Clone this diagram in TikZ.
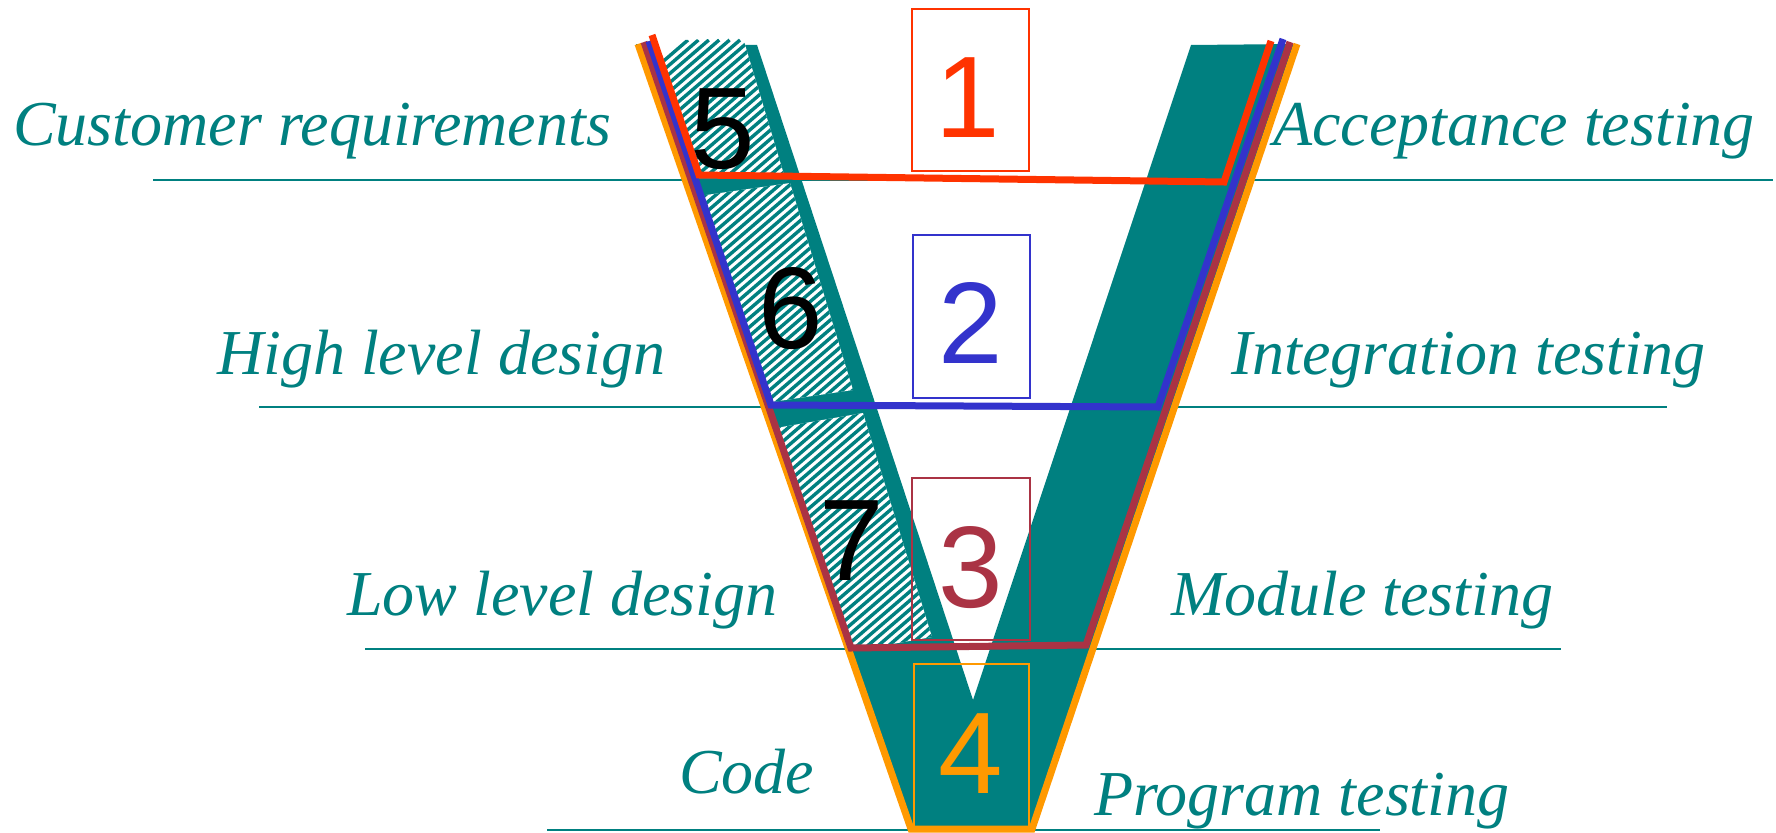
\documentclass[tikz,border=0pt]{standalone}
\usepackage{fontspec}
\setmainfont{Liberation Serif}
\newfontfamily\digitfont{Liberation Sans}
\definecolor{vteal}{HTML}{008080}
\definecolor{vred}{HTML}{FF3300}
\definecolor{vblue}{HTML}{3333CC}
\definecolor{vbrown}{HTML}{AA3344}
\definecolor{vorange}{HTML}{FF9900}
\begin{document}
\begin{tikzpicture}[x=1pt,y=-1pt,
  rule/.style={vteal, line width=2pt},
  lbl/.style={font=\fontsize{64}{70}\selectfont\itshape, text=vteal, inner sep=0pt, anchor=base west},
  digit/.style={font=\digitfont\fontsize{116}{120}\selectfont, inner sep=0pt, anchor=base},
  numbox/.style={line width=2pt},
  vline/.style={line width=7pt, line join=miter}]
\useasboundingbox (0,0) rectangle (1776,832);
\fill[white] (0,0) rectangle (1776,832);
% horizontal rules
\draw[rule] (153,180) -- (1773,180);
\draw[rule] (259,407) -- (1667,407);
\draw[rule] (365,649) -- (1561,649);
\draw[rule] (547,830) -- (1380,830);
% teal V
\fill[vteal] (636,44) -- (911,829) -- (1032,829) -- (1297,44) -- (1191,45) -- (973,700) -- (757,45) -- cycle;
% hatched areas
\begin{scope}
  \clip (650,41) -- (743,38) -- (785,178) -- (699,178) -- cycle
        (699,196) -- (790,183) -- (853,390) -- (772,402) -- cycle
        (776,428) -- (863,413) -- (932,637) -- (853,651) -- cycle;
  \fill[white] (600,0) rectangle (1000,700);
  \foreach \i in {-30,...,80} {
    \draw[vteal, line width=3.4pt] (\i*10.4,900) -- ++(1000,-860);
  }
\end{scope}
% number boxes
\draw[numbox, vred] (912,9) rectangle (1029,171);
\draw[numbox, vblue] (913,235) rectangle (1030,398);
\draw[numbox, vbrown] (912,478) rectangle (1030,640);
\draw[numbox, vorange] (914,664) rectangle (1029,827);
% coloured phase lines
\draw[vline, vorange] (638,44) -- (911,829) -- (1032,829) -- (1297,44);
\draw[vline, vbrown] (644,42) -- (851,648) -- (1086,645) -- (1290,42);
\draw[vline, vblue] (649,41) -- (771,405) -- (1158,407) -- (1283,39);
\draw[vline, vred] (652,35) -- (699,175) -- (1224,182) -- (1271,41);
% digits
\node[digit, text=vred] (d1) at (968,137) {1};
\node[digit, text=vblue] (d2) at (971,363) {2};
\node[digit, text=vbrown] (d3) at (971,607) {3};
\node[digit, text=vorange] (d4) at (971,793) {4};
\node[digit] (d5) at (723,168) {5};
\node[digit] (d6) at (791,348) {6};
\node[digit] (d7) at (852,580) {7};
% labels
\node[lbl] (l1) at (13,145) {Customer requirements};
\node[lbl] (r1) at (1273,145) {Acceptance testing};
\node[lbl] (l2) at (217,374) {High level design};
\node[lbl] (r2) at (1231,374) {Integration testing};
\node[lbl] (l3) at (347,615) {Low level design};
\node[lbl] (r3) at (1171,615) {Module testing};
\node[lbl] (l4) at (679,793) {Code};
\node[lbl] (r4) at (1094,815) {Program testing};
\end{tikzpicture}
\end{document}
